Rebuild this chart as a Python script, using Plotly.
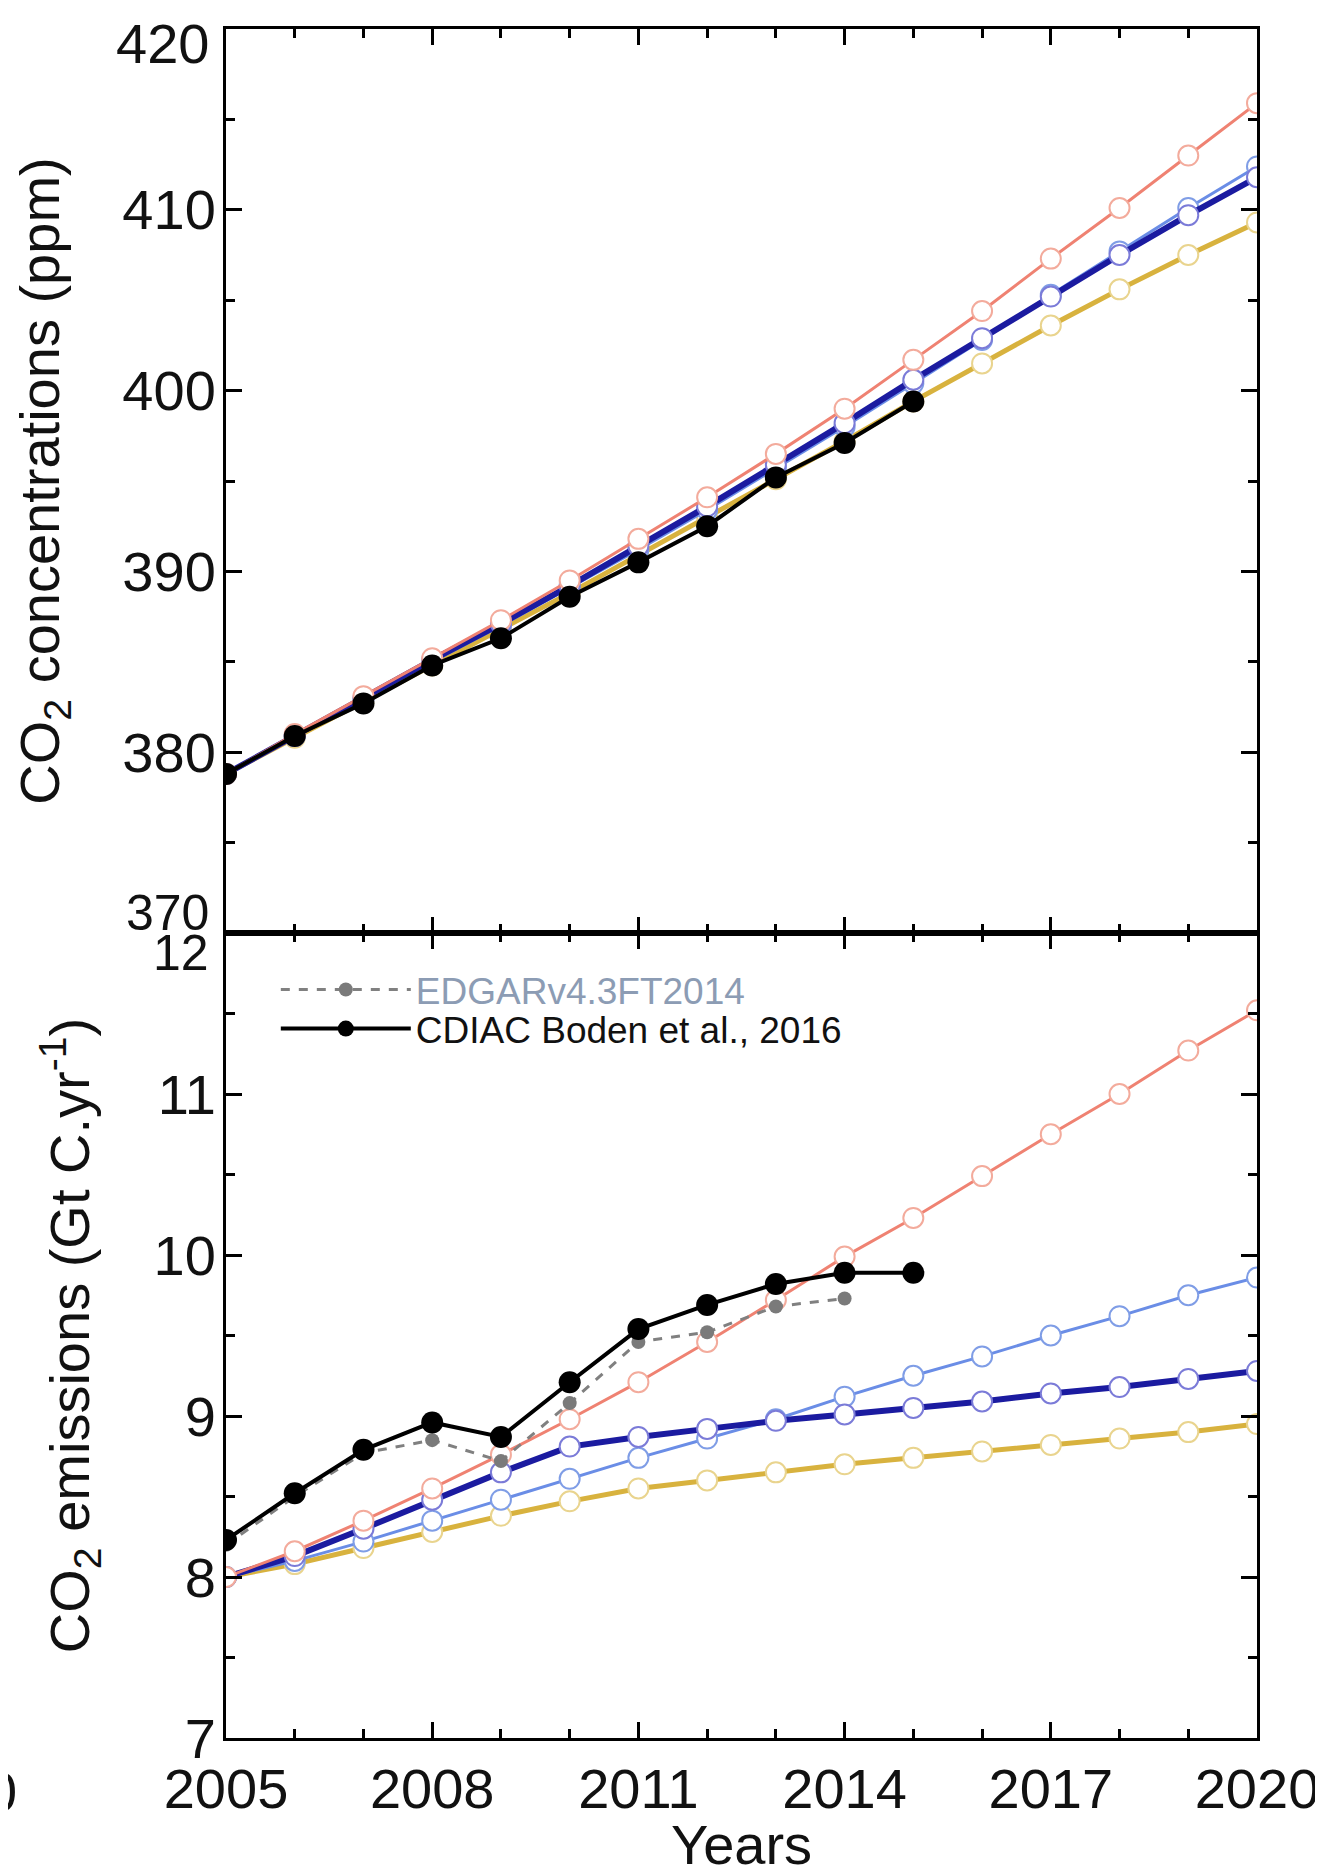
import plotly.graph_objects as go
from plotly.subplots import make_subplots

# ---------------- data ----------------
years = list(range(2005, 2021))
obs_years = list(range(2005, 2016))
edgar_years = list(range(2005, 2015))

# Top panel: CO2 concentrations (ppm)
conc_red = [378.8, 381.0, 383.1, 385.2, 387.3, 389.5, 391.8, 394.1, 396.5, 399.0, 401.7, 404.4, 407.3, 410.1, 413.0, 415.9]
conc_navy = [378.8, 380.9, 383.0, 385.1, 387.1, 389.2, 391.4, 393.6, 395.9, 398.2, 400.6, 402.9, 405.2, 407.5, 409.7, 411.8]
conc_lightblue = [378.8, 380.9, 382.9, 385.0, 387.0, 389.1, 391.2, 393.4, 395.7, 398.0, 400.4, 402.8, 405.3, 407.7, 410.1, 412.4]
conc_gold = [378.8, 380.8, 382.8, 384.8, 386.8, 388.8, 390.9, 393.0, 395.1, 397.2, 399.4, 401.5, 403.6, 405.6, 407.5, 409.3]
conc_obs = [378.8, 380.9, 382.7, 384.8, 386.3, 388.6, 390.5, 392.5, 395.2, 397.1, 399.4]

# Bottom panel: CO2 emissions (Gt C / yr)
emis_red = [8.0, 8.16, 8.35, 8.55, 8.76, 8.98, 9.21, 9.46, 9.72, 9.99, 10.23, 10.49, 10.75, 11.0, 11.27, 11.52]
emis_lightblue = [8.0, 8.1, 8.22, 8.35, 8.48, 8.61, 8.74, 8.86, 8.98, 9.12, 9.25, 9.37, 9.5, 9.62, 9.75, 9.86]
emis_navy = [8.0, 8.13, 8.3, 8.48, 8.65, 8.81, 8.87, 8.92, 8.97, 9.01, 9.05, 9.09, 9.14, 9.18, 9.23, 9.28]
emis_gold = [8.0, 8.08, 8.18, 8.28, 8.38, 8.47, 8.55, 8.6, 8.65, 8.7, 8.74, 8.78, 8.82, 8.86, 8.9, 8.95]
emis_cdiac = [8.23, 8.52, 8.79, 8.96, 8.87, 9.21, 9.54, 9.69, 9.82, 9.89, 9.89]
emis_edgar = [8.2, 8.5, 8.77, 8.85, 8.72, 9.08, 9.46, 9.52, 9.68, 9.73]

# tick labels
x_tickvals = [2005, 2008, 2011, 2014, 2017, 2020]
x_ticktext = ["2005", "2008", "2011", "2014", "2017", "2020"]
conc_tickvals = [370, 380, 390, 400, 410, 420]
conc_ticktext = ["", "380", "390", "400", "410", ""]
emis_tickvals = [7, 8, 9, 10, 11, 12]
emis_ticktext = ["7", "8", "9", "10", "11", ""]

legend_edgar = "EDGARv4.3FT2014"
legend_cdiac = "CDIAC Boden et al., 2016"

# ---------------- styling ----------------
FONT = "Liberation Sans, Arial, Helvetica, sans-serif"
W, H = 1323, 1868
ML, MR, MT, MB = 218, 70, 21, 138
PW = W - ML - MR
PH = H - MT - MB
split = (1730 - 925) / PH

models = [
    # (conc, emis, line color, line width, marker edge)
    (conc_gold, emis_gold, "#d8b23e", 5, "#e9d48e"),
    (conc_lightblue, emis_lightblue, "#6a8de6", 3, "#7f9de6"),
    (conc_navy, emis_navy, "#1b1ba0", 6, "#7b7bd8"),
    (conc_red, emis_red, "#ef8272", 3, "#f3ab9c"),
]

fig = make_subplots(rows=2, cols=1, shared_xaxes=True, vertical_spacing=0,
                    row_heights=[1 - split, split])

for conc, emis, col, lw, edge in models:
    for row, vals in ((1, conc), (2, emis)):
        fig.add_trace(go.Scatter(
            x=years, y=vals, mode="lines+markers", showlegend=False,
            line=dict(color=col, width=lw),
            marker=dict(symbol="circle", size=20, color="white",
                        line=dict(color=edge, width=2)),
        ), row=row, col=1)

# observed concentrations
fig.add_trace(go.Scatter(
    x=obs_years, y=conc_obs, mode="lines+markers", showlegend=False,
    line=dict(color="black", width=4),
    marker=dict(size=22, color="black"),
), row=1, col=1)

# EDGAR
fig.add_trace(go.Scatter(
    x=edgar_years, y=emis_edgar, mode="lines+markers", legend="legend",
    name='<span style="color:#8c9cb4">' + legend_edgar + '</span>',
    line=dict(color="#808080", width=3, dash="dash"),
    marker=dict(size=14, color="#7a7a7a"),
), row=2, col=1)

# CDIAC
fig.add_trace(go.Scatter(
    x=obs_years, y=emis_cdiac, mode="lines+markers", name=legend_cdiac, legend="legend2",
    line=dict(color="black", width=4),
    marker=dict(size=22, color="black"),
), row=2, col=1)

TICKFONT = dict(family=FONT, size=56, color="#111")
axis_common = dict(showline=True, linewidth=3, linecolor="black", mirror="allticks",
                   ticks="inside", tickcolor="black", tickwidth=3, ticklen=16,
                   showgrid=False, zeroline=False, tickfont=TICKFONT)

fig.update_xaxes(range=[2005, 2020], tickmode="array", tickvals=x_tickvals, ticktext=x_ticktext,
                 minor=dict(dtick=1, tick0=2005, ticks="inside", ticklen=9, tickwidth=3,
                            tickcolor="black", showgrid=False),
                 **axis_common)
fig.update_xaxes(showticklabels=False, row=1, col=1)
fig.update_xaxes(title=dict(text="Years", font=TICKFONT, standoff=0), row=2, col=1)

fig.update_yaxes(range=[370, 420], tickmode="array", tickvals=conc_tickvals, ticktext=conc_ticktext,
                 minor=dict(dtick=5, tick0=370, ticks="inside", ticklen=9, tickwidth=3,
                            tickcolor="black", showgrid=False),
                 ticklabelstandoff=-4,
                 title=dict(text="CO<sub>2</sub> concentrations (ppm)", font=TICKFONT, standoff=46),
                 row=1, col=1, **axis_common)
fig.update_yaxes(range=[7, 12], tickmode="array", tickvals=emis_tickvals, ticktext=emis_ticktext,
                 minor=dict(dtick=0.5, tick0=7, ticks="inside", ticklen=9, tickwidth=3,
                            tickcolor="black", showgrid=False),
                 ticklabelstandoff=-4,
                 title=dict(text="CO<sub>2</sub> emissions (Gt C.yr<sup>-1</sup>)", font=TICKFONT,
                            standoff=46),
                 row=2, col=1, **axis_common)

annotations = [
    dict(text="420", xref="paper", x=0, xanchor="right", xshift=-15,
         yref="y", y=420, yanchor="middle", yshift=-14, showarrow=False,
         font=dict(family=FONT, size=56, color="#111")),
    dict(text="370", xref="paper", x=0, xanchor="right", xshift=-15,
         yref="y", y=370, yanchor="bottom", yshift=-10, showarrow=False,
         font=dict(family=FONT, size=50, color="#111")),
    dict(text="12", xref="paper", x=0, xanchor="right", xshift=-15,
         yref="y2", y=12, yanchor="top", yshift=10, showarrow=False,
         font=dict(family=FONT, size=50, color="#111")),
    dict(text="0", xref="paper", x=(10 - ML) / PW, xanchor="right",
         yref="paper", y=(1730 - 1783) / PH, yanchor="middle", showarrow=False,
         font=dict(family=FONT, size=56, color="#111")),
]

leg_common = dict(xanchor="left", yanchor="top", bgcolor="rgba(0,0,0,0)",
                  font=dict(family=FONT, size=37, color="#111"),
                  itemwidth=130, tracegroupgap=0)

fig.update_layout(
    width=W, height=H,
    margin=dict(l=ML, r=MR, t=MT, b=MB),
    paper_bgcolor="white", plot_bgcolor="white",
    font=dict(family=FONT, color="#111"),
    showlegend=True,
    legend=dict(x=(268 - ML) / PW, y=(1730 - 951) / PH, **leg_common),
    legend2=dict(x=(268 - ML) / PW, y=(1730 - 990) / PH, **leg_common),
    annotations=annotations,
)

fig.write_html("out.html")
